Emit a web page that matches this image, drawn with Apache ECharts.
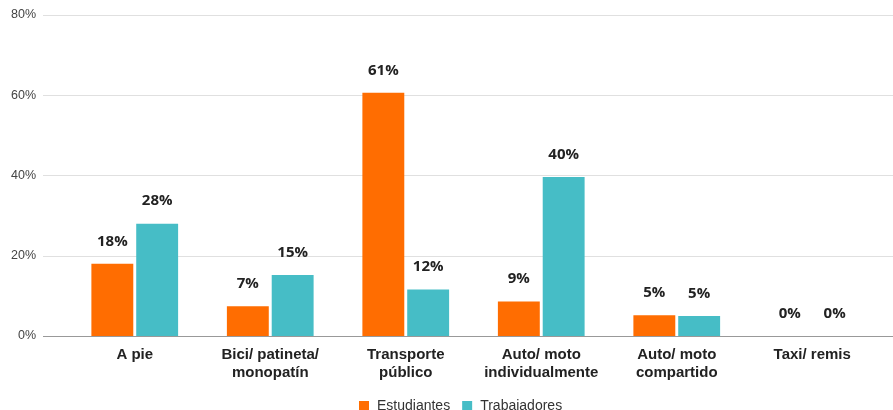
<!DOCTYPE html>
<html>
<head>
<meta charset="utf-8">
<script src="https://cdn.jsdelivr.net/npm/echarts@6/dist/echarts.min.js"></script>
<style>html,body{margin:0;padding:0;background:#fff}#c{width:893px;height:410px}</style>
</head>
<body>
<div id="c"></div>
<script>
const categories = ['A pie', 'Bici/ patineta/\nmonopatín', 'Transporte\npúblico', 'Auto/ moto\nindividualmente', 'Auto/ moto\ncompartido', 'Taxi/ remis'];
const estudiantes = [18.0, 7.4, 60.6, 8.6, 5.2, 0];
const trabajadores = [28.0, 15.2, 11.6, 39.6, 5.0, 0];
const seriesNames = ['Estudiantes', 'Trabajadores'];
const yTicks = [0, 20, 40, 60, 80];

const chart = echarts.init(document.getElementById('c'));
const labelCfg = {
  show: true, position: 'top', distance: 15,
  formatter: p => Math.round(p.value) + '%',
  fontFamily: 'Open Sans', fontWeight: 'bold', fontSize: 15, color: '#222'
};
chart.setOption({
  animation: false,
  legend: {
    data: seriesNames, top: 394, left: 354,
    itemWidth: 10, itemHeight: 10, itemGap: 12, icon: 'rect',
    textStyle: { fontFamily: 'Liberation Sans', fontSize: 14, color: '#333', padding: [0, 0, 0, 3] }
  },
  grid: [
    { left: 43, right: 0, top: 15, bottom: 74 },
    { left: 67, right: 13, top: 15, bottom: 74 }
  ],
  xAxis: [
    { type: 'value', gridIndex: 0, show: false, min: 0, max: 1 },
    { type: 'category', gridIndex: 1, data: categories,
      axisLine: { show: false }, axisTick: { show: false },
      axisLabel: { interval: 0, margin: 10, fontFamily: 'Liberation Sans', fontWeight: 'bold', fontSize: 15, lineHeight: 18, color: '#222' } }
  ],
  yAxis: [
    { type: 'value', gridIndex: 0, min: yTicks[0], max: yTicks[yTicks.length - 1], interval: 20,
      axisLine: { show: false }, axisTick: { show: false },
      axisLabel: { formatter: '{value}%', margin: 7, fontFamily: 'Liberation Sans', fontSize: 12.5, color: '#444' },
      splitLine: { lineStyle: { color: ['#999', '#e0e0e0', '#e0e0e0', '#e0e0e0', '#e0e0e0'], width: 1 } } },
    { type: 'value', gridIndex: 1, min: yTicks[0], max: yTicks[yTicks.length - 1], interval: 20, show: false, splitLine: { show: false } }
  ],
  series: [
    { name: seriesNames[0], type: 'bar', xAxisIndex: 1, yAxisIndex: 1, data: estudiantes,
      itemStyle: { color: '#FF6D01' }, barGap: '7%', barCategoryGap: '36%', label: labelCfg },
    { name: seriesNames[1], type: 'bar', xAxisIndex: 1, yAxisIndex: 1, data: trabajadores,
      itemStyle: { color: '#46BDC6' }, label: labelCfg }
  ]
});
</script>
</body>
</html>
